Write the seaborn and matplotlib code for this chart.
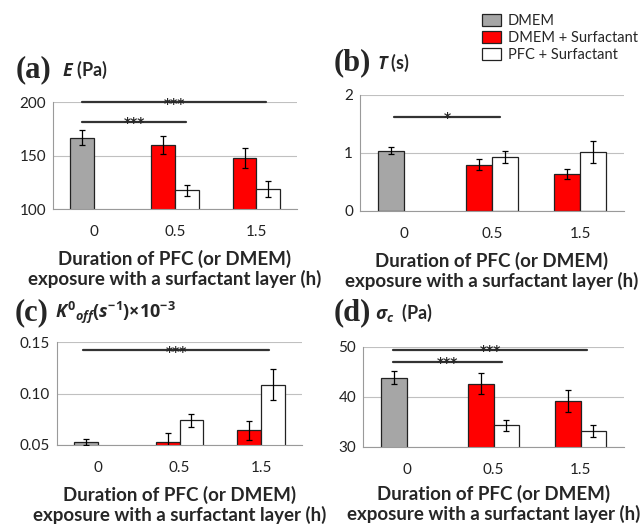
import numpy as np
import pandas as pd
import matplotlib
matplotlib.use('Agg')
import matplotlib.pyplot as plt
from matplotlib.patches import Patch
from matplotlib.ticker import FixedLocator, FormatStrFormatter
import seaborn as sns

# Data
times = ['0', '0.5', '1.5']
series_names = ['DMEM', 'DMEM + Surfactant', 'PFC + Surfactant']

# (a) E (Pa)
E_ctrl = [166.8, 159.6, 147.5]          # DMEM at 0, DMEM + Surfactant after
E_ctrl_err = [6.7, 8.4, 9.6]
E_pfc = [np.nan, 117.4, 118.6]
E_pfc_err = [np.nan, 5.4, 7.5]

# (b) T (s)
T_ctrl = [1.04, 0.80, 0.645]
T_ctrl_err = [0.055, 0.09, 0.085]
T_pfc = [np.nan, 0.93, 1.02]
T_pfc_err = [np.nan, 0.10, 0.19]

# (c) K0off
K_ctrl = [0.0526, 0.0532, 0.0642]
K_ctrl_err = [0.003, 0.008, 0.0095]
K_pfc = [np.nan, 0.0739, 0.1087]
K_pfc_err = [np.nan, 0.0066, 0.0147]

# (d) sigma_c (Pa)
S_ctrl = [43.9, 42.7, 39.3]
S_ctrl_err = [1.33, 2.1, 2.2]
S_pfc = [np.nan, 34.4, 33.2]
S_pfc_err = [np.nan, 1.1, 1.15]

# significance bars: (start category, end category, y, label)
sig_a = [(-0.14, 2.12, 200, '***'), (-0.14, 1.14, 181.4, '***')]
sig_b = [(-0.11, 1.09, 1.625, '*')]
sig_c = [(-0.18, 2.1, 0.1419, '***')]
sig_d = [(-0.15, 2.08, 49.5, '***'), (-0.15, 1.1, 47.1, '***')]

colors = {'DMEM': '#a6a6a6', 'DMEM + Surfactant': '#ff0000', 'PFC + Surfactant': '#ffffff'}

sns.set_style('white')
plt.rcParams['font.family'] = ['Lato', 'DejaVu Sans']
plt.rcParams['mathtext.fontset'] = 'custom'
plt.rcParams['mathtext.it'] = 'Open Sans:italic:bold'
plt.rcParams['mathtext.rm'] = 'Open Sans:bold'

fig = plt.figure(figsize=(6.44, 5.24), dpi=100)

W, H = 644, 524


def make_df(ctrl, ctrl_err, pfc, pfc_err):
    rows = []
    for i, t in enumerate(times):
        rows.append({'time': t, 'slot': 'left', 'value': ctrl[i], 'err': ctrl_err[i]})
        rows.append({'time': t, 'slot': 'right', 'value': pfc[i], 'err': pfc_err[i]})
    return pd.DataFrame(rows)


def panel(rect, df, ylim, yticks, fmt, sig, letter, title, title_pos, lpad=8):
    l, r, t, b = rect
    ax = fig.add_axes([l / W, 1 - b / H, (r - l) / W, (b - t) / H])
    d = df.dropna(subset=['value'])
    sns.barplot(data=d, x='time', y='value', hue='slot', order=times,
                hue_order=['left', 'right'], errorbar=None, width=0.58,
                ax=ax, legend=False, edgecolor='#222222', linewidth=0.9)
    for p in ax.patches:
        xc = p.get_x() + p.get_width() / 2
        ci = int(round(xc))
        slot = 'left' if xc < ci else 'right'
        if slot == 'left':
            p.set_facecolor(colors['DMEM'] if ci == 0 else colors['DMEM + Surfactant'])
        else:
            p.set_facecolor(colors['PFC + Surfactant'])
        row = d[(d['time'] == times[ci]) & (d['slot'] == slot)].iloc[0]
        ax.errorbar(xc, row['value'], yerr=row['err'], fmt='none', ecolor='black',
                    elinewidth=0.9, capsize=2.5, capthick=0.9, zorder=5)
    ax.set_ylim(*ylim)
    ax.set_xlim(-0.5, 2.5)
    ax.set_yticks(yticks)
    ax.yaxis.set_major_formatter(FormatStrFormatter(fmt))
    ax.yaxis.grid(True, color='#c0c0c0', linewidth=0.8)
    ax.set_axisbelow(True)
    for s in ['top', 'right']:
        ax.spines[s].set_visible(False)
    for s in ['left', 'bottom']:
        ax.spines[s].set_color('#9a9a9a')
        ax.spines[s].set_linewidth(0.8)
    ax.tick_params(axis='y', length=0, labelsize=11, pad=5, colors='#222222')
    ax.tick_params(axis='x', which='major', length=0, labelsize=11, pad=11.5, colors='#222222')
    ax.xaxis.set_minor_locator(FixedLocator([-0.5, 0.5, 1.5, 2.5]))
    ax.tick_params(axis='x', which='minor', length=3, color='#9a9a9a', width=0.8)
    ax.set_xlabel('Duration of PFC (or DMEM)\nexposure with a surfactant layer (h)',
                  fontsize=13.5, fontweight='bold', labelpad=lpad, linespacing=1.1)
    ax.set_ylabel('')
    for x0, x1, y, lab in sig:
        ax.plot([x0, x1], [y, y], color='#333333', linewidth=1.6, clip_on=False, zorder=6)
        ax.annotate(lab, ((x0 + x1) / 2, y), xytext=(0, -4), textcoords='offset points',
                    ha='center', va='baseline', fontsize=10, fontweight='bold',
                    family='DejaVu Sans', annotation_clip=False, zorder=7)
    lx, tx, ty = title_pos
    fig.text(lx / W, 1 - ty / H, letter, fontsize=22, fontweight='bold',
             family='Liberation Serif', va='center', ha='left')
    fig.text(tx / W, 1 - ty / H, title, fontsize=13, fontweight='bold',
             va='center', ha='left')
    return ax


panel((53, 297, 102, 209), make_df(E_ctrl, E_ctrl_err, E_pfc, E_pfc_err),
      (100, 200), [100, 150, 200], '%d', sig_a, '(a)', r'$\mathit{E}$ (Pa)', (16, 62, 70))
panel((360, 624, 95, 211), make_df(T_ctrl, T_ctrl_err, T_pfc, T_pfc_err),
      (0, 2), [0, 1, 2], '%d', sig_b, '(b)', r'$\mathit{T}$ (s)', (334, 377, 63))
panel((57, 302, 342, 445), make_df(K_ctrl, K_ctrl_err, K_pfc, K_pfc_err),
      (0.05, 0.15), [0.05, 0.10, 0.15], '%.2f', sig_c, '(c)',
      r'$\mathit{K^{0}{}_{off}(s^{-1}){\times}10^{-3}}$', (15, 55, 313))
panel((363, 624, 347, 447), make_df(S_ctrl, S_ctrl_err, S_pfc, S_pfc_err),
      (30, 50), [30, 40, 50], '%d', sig_d, '(d)', r'$\mathit{\sigma_c}$  (Pa)', (334, 375, 313),
      lpad=6)

handles = [Patch(facecolor=colors[s], edgecolor='#222222', linewidth=0.9, label=s)
           for s in series_names]
fig.legend(handles=handles, loc='upper left', bbox_to_anchor=(476 / W, 1 - 8 / H),
           frameon=False, fontsize=10.5, handlelength=1.3, handleheight=0.9,
           handletextpad=0.5, labelspacing=0.2, borderaxespad=0)

fig.savefig('out.png', dpi=100)
